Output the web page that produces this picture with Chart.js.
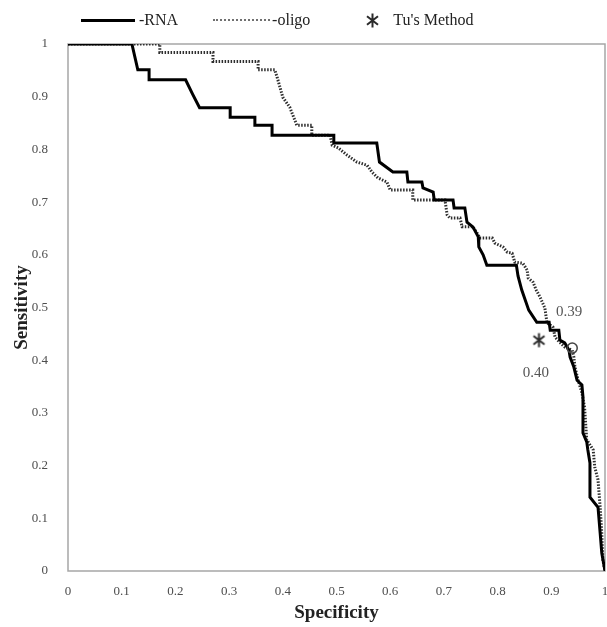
<!DOCTYPE html>
<html>
<head>
<meta charset="utf-8">
<title>ROC</title>
<script src="https://cdn.jsdelivr.net/npm/chart.js@4.4.1/dist/chart.umd.min.js"></script>
<style>
    html, body { margin: 0; padding: 0; background: #fff; overflow: hidden; }
    #wrap { position: relative; width: 615px; height: 627px; }
    #rocChart { display: block; }
    #legend {
        position: absolute; left: 81px; top: 11px;
        display: flex; align-items: center;
        font-family: "Liberation Serif", "Times New Roman", serif;
        font-size: 16px; line-height: 18px; color: #222;
    }
    .swatch-rna { width: 54px; border-top: 3px solid #000; margin-right: 4px; }
    .swatch-oligo { width: 57px; border-top: 2px dotted #707070; margin: 0 2px 0 35px; }
    #tuMark { margin: 0 12px 0 54px; }
</style>
</head>
<body>
<div id="wrap">
    <canvas id="rocChart" width="615" height="627"></canvas>
    <div id="legend">
        <span class="swatch-rna"></span><span>-RNA</span>
        <span class="swatch-oligo"></span><span>-oligo</span>
        <canvas id="tuMark" width="17" height="17"></canvas><span>Tu's Method</span>
    </div>
</div>
<script>
// ROC curve of the RNA classifier
const rnaSpec = [0, 0.119, 0.13, 0.151, 0.151, 0.219, 0.232, 0.245, 0.302, 0.302, 0.348, 0.348, 0.38, 0.38,
    0.495, 0.495, 0.575, 0.58, 0.605, 0.631, 0.633, 0.659, 0.661, 0.68, 0.682, 0.717, 0.719, 0.739, 0.743,
    0.754, 0.764, 0.765, 0.773, 0.78, 0.835, 0.838, 0.845, 0.858, 0.873, 0.896, 0.898, 0.914, 0.916, 0.925,
    0.933, 0.935, 0.942, 0.948, 0.957, 0.959, 0.959, 0.966, 0.968, 0.972, 0.972, 0.987, 0.991, 0.994, 1];
const rnaSens = [1, 1, 0.951, 0.951, 0.932, 0.932, 0.905, 0.879, 0.879, 0.861, 0.861, 0.846, 0.846, 0.827,
    0.827, 0.812, 0.812, 0.776, 0.757, 0.757, 0.738, 0.738, 0.727, 0.719, 0.704, 0.704, 0.689, 0.689, 0.662,
    0.653, 0.634, 0.615, 0.6, 0.58, 0.58, 0.56, 0.533, 0.495, 0.472, 0.472, 0.457, 0.457, 0.438, 0.433,
    0.419, 0.406, 0.387, 0.362, 0.353, 0.33, 0.262, 0.245, 0.23, 0.205, 0.14, 0.121, 0.072, 0.034, 0];

// ROC curve of the oligo classifier
const oligoSpec = [0, 0.171, 0.171, 0.27, 0.27, 0.354, 0.354, 0.385, 0.39, 0.4, 0.413, 0.426, 0.454, 0.454,
    0.488, 0.492, 0.503, 0.52, 0.538, 0.557, 0.566, 0.577, 0.594, 0.6, 0.642, 0.642, 0.702, 0.706, 0.711,
    0.73, 0.734, 0.754, 0.762, 0.767, 0.79, 0.795, 0.81, 0.818, 0.827, 0.832, 0.847, 0.855, 0.857, 0.866,
    0.872, 0.879, 0.888, 0.892, 0.903, 0.907, 0.912, 0.925, 0.939, 0.942, 0.944, 0.95, 0.957, 0.962, 0.966,
    0.978, 0.981, 0.987, 0.991, 0.994, 0.996, 1];
const oligoSens = [1, 1, 0.984, 0.984, 0.967, 0.967, 0.951, 0.951, 0.935, 0.899, 0.88, 0.846, 0.846, 0.827,
    0.827, 0.808, 0.803, 0.789, 0.776, 0.77, 0.757, 0.746, 0.738, 0.723, 0.723, 0.704, 0.704, 0.676, 0.67,
    0.67, 0.653, 0.653, 0.641, 0.632, 0.632, 0.622, 0.615, 0.605, 0.603, 0.586, 0.584, 0.571, 0.556, 0.548,
    0.533, 0.52, 0.499, 0.471, 0.463, 0.444, 0.438, 0.425, 0.419, 0.406, 0.387, 0.362, 0.338, 0.31, 0.249,
    0.23, 0.197, 0.173, 0.121, 0.072, 0.021, 0];

// Tu's method operating point, and the chosen oligo cut-off
const tuSpec = [0.877];
const tuSens = [0.438];
const cutoffSpec = [0.939];
const cutoffSens = [0.423];
const cutoffLabel = '0.39';
const tuLabel = '0.40';

const xTicks = [0, 0.1, 0.2, 0.3, 0.4, 0.5, 0.6, 0.7, 0.8, 0.9, 1];
const yTicks = [0, 0.1, 0.2, 0.3, 0.4, 0.5, 0.6, 0.7, 0.8, 0.9, 1];

function toPoints(xs, ys) {
    return xs.map((x, i) => ({ x: x, y: ys[i] }));
}

function drawAsterisk(canvas) {
    const c = canvas.getContext('2d');
    const m = canvas.width / 2;
    const r = m - 1.5;
    const a = 38 * Math.PI / 180;
    c.strokeStyle = '#2b2b2b';
    c.lineWidth = 2;
    c.beginPath();
    c.moveTo(m, m - r); c.lineTo(m, m + r);
    c.moveTo(m - r * Math.cos(a), m - r * Math.sin(a)); c.lineTo(m + r * Math.cos(a), m + r * Math.sin(a));
    c.moveTo(m - r * Math.cos(a), m + r * Math.sin(a)); c.lineTo(m + r * Math.cos(a), m - r * Math.sin(a));
    c.stroke();
}

const starPoint = document.createElement('canvas');
starPoint.width = 17;
starPoint.height = 17;
drawAsterisk(starPoint);
drawAsterisk(document.getElementById('tuMark'));

// grey box round the plot area, plus the cut-off numbers next to the two marks
const frameAndLabels = {
    id: 'frameAndLabels',
    beforeDatasetsDraw(chart) {
        const { ctx, chartArea: a } = chart;
        ctx.save();
        ctx.strokeStyle = '#a6a6a6';
        ctx.lineWidth = 1.5;
        ctx.strokeRect(a.left, a.top, a.right - a.left, a.bottom - a.top);
        ctx.restore();
    },
    afterDatasetsDraw(chart) {
        const { ctx, scales: { x, y } } = chart;
        ctx.save();
        ctx.font = '15px "Liberation Serif", serif';
        ctx.fillStyle = '#555';
        ctx.textAlign = 'center';
        ctx.textBaseline = 'middle';
        ctx.fillText(cutoffLabel, x.getPixelForValue(cutoffSpec[0]) - 3, y.getPixelForValue(cutoffSens[0]) - 36);
        ctx.fillText(tuLabel, x.getPixelForValue(tuSpec[0]) - 3, y.getPixelForValue(tuSens[0]) + 33);
        ctx.restore();
    }
};

Chart.defaults.font.family = '"Liberation Serif", "Times New Roman", serif';

const tickFormat = value => String(Number(value.toFixed(1)));

const rocChart = new Chart(document.getElementById('rocChart'), {
    type: 'scatter',
    data: {
        datasets: [
            {
                label: "Tu's Method",
                data: toPoints(tuSpec, tuSens),
                pointStyle: starPoint,
                pointRadius: 8
            },
            {
                label: 'cut-off',
                data: toPoints(cutoffSpec, cutoffSens),
                pointStyle: 'circle',
                pointRadius: 5,
                borderColor: '#444',
                borderWidth: 1.5,
                backgroundColor: 'rgba(255,255,255,0)'
            },
            {
                label: '-RNA',
                data: toPoints(rnaSpec, rnaSens),
                showLine: true,
                borderColor: '#000',
                borderWidth: 3,
                pointRadius: 0
            },
            {
                label: '-oligo',
                data: toPoints(oligoSpec, oligoSens),
                showLine: true,
                borderColor: '#2e2e2e',
                borderWidth: 3,
                borderDash: [1.5, 1.5],
                pointRadius: 0
            }
        ]
    },
    options: {
        responsive: false,
        animation: false,
        events: [],
        layout: { padding: { top: 44, right: 10, left: 0, bottom: 0 } },
        plugins: {
            legend: { display: false },
            tooltip: { enabled: false }
        },
        scales: {
            x: {
                type: 'linear',
                min: 0,
                max: 1,
                grid: { display: false },
                border: { display: false },
                afterBuildTicks: scale => { scale.ticks = xTicks.map(v => ({ value: v })); },
                afterFit: scale => { scale.height = 56; },
                ticks: { padding: 5, color: '#4d4d4d', font: { size: 13 }, callback: tickFormat },
                title: {
                    display: true,
                    text: 'Specificity',
                    color: '#222',
                    font: { size: 19, weight: 'bold' },
                    padding: { top: 0, bottom: 3 }
                }
            },
            y: {
                type: 'linear',
                min: 0,
                max: 1,
                grid: { display: false },
                border: { display: false },
                afterBuildTicks: scale => { scale.ticks = yTicks.map(v => ({ value: v })); },
                afterFit: scale => { scale.width = 68; },
                ticks: { padding: 12, color: '#4d4d4d', font: { size: 13 }, callback: tickFormat },
                title: {
                    display: true,
                    text: 'Sensitivity',
                    color: '#222',
                    font: { size: 19, weight: 'bold' },
                    padding: { top: 11, bottom: 0 }
                }
            }
        }
    },
    plugins: [frameAndLabels]
});
</script>
</body>
</html>
